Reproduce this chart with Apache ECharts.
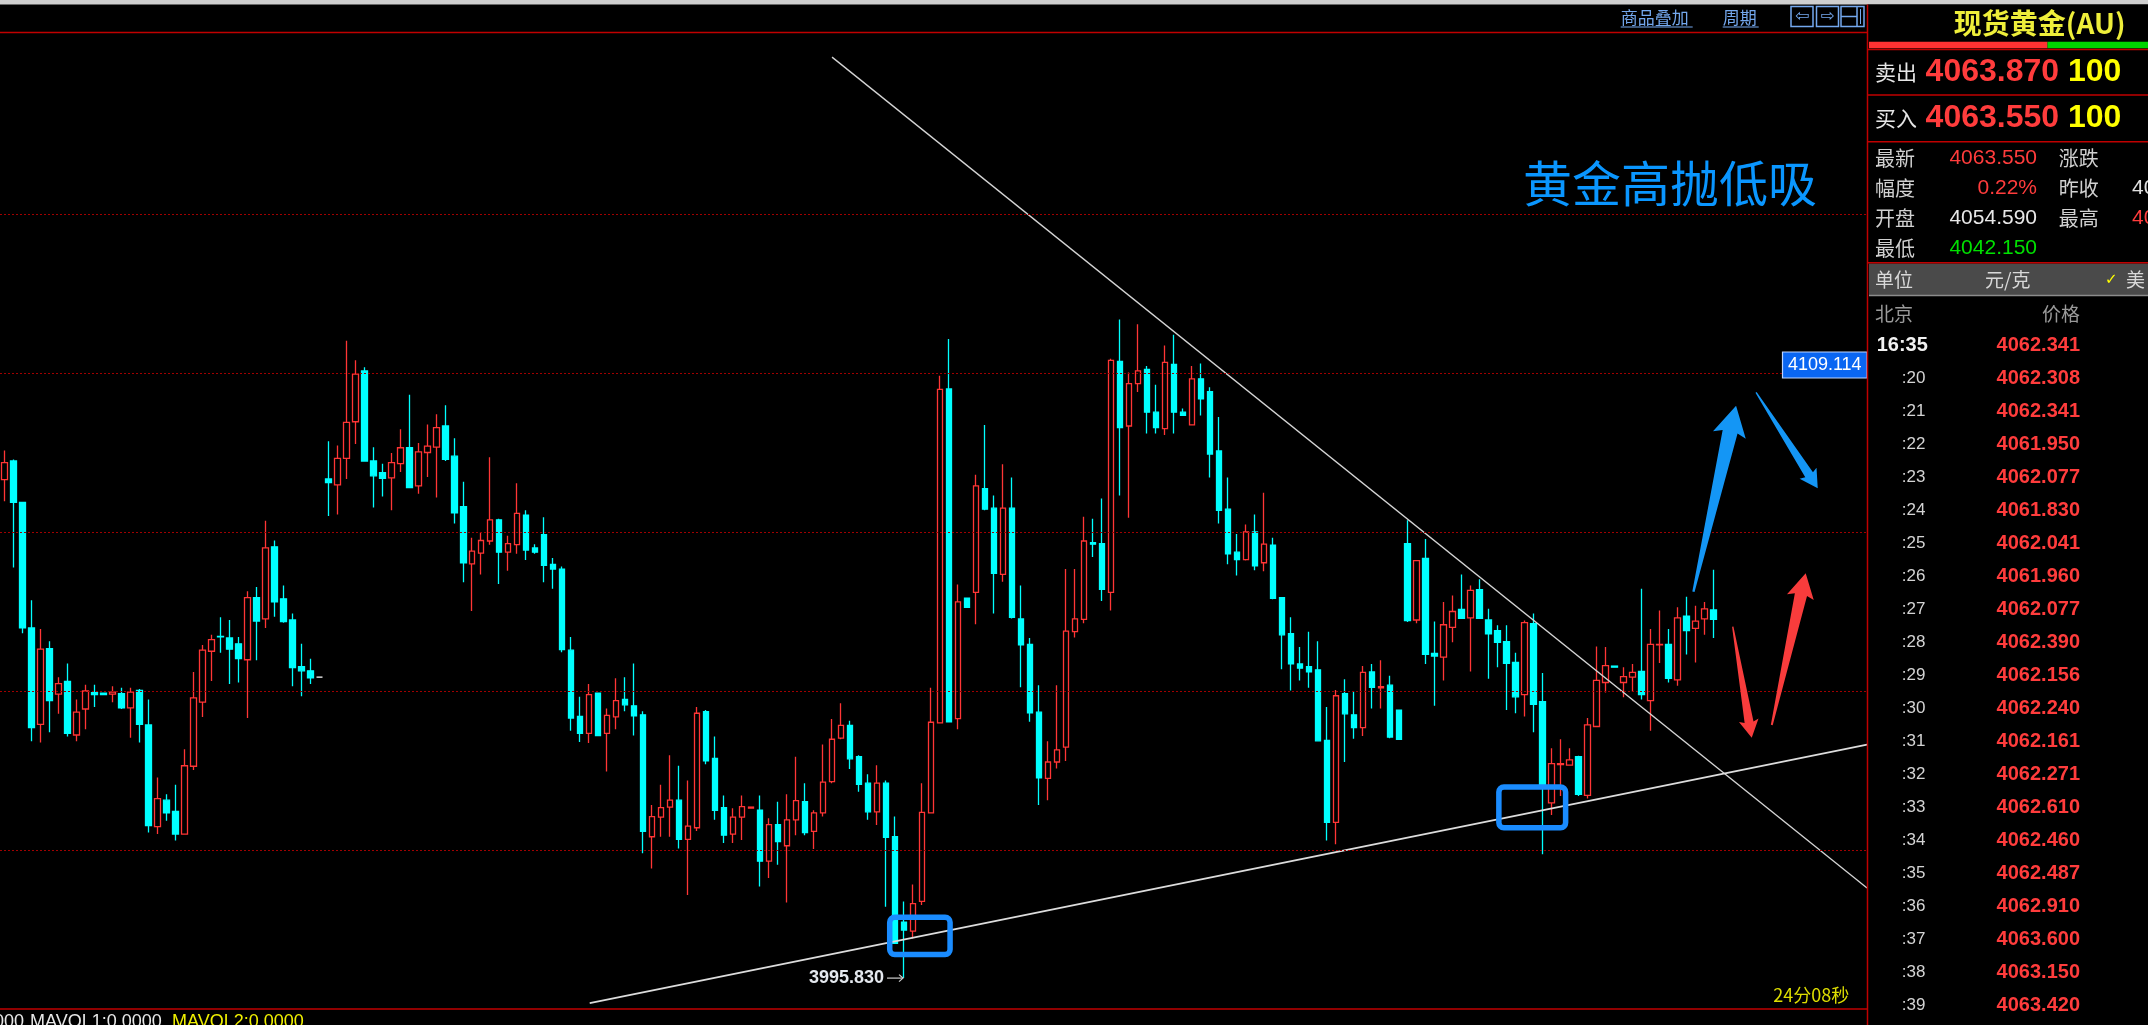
<!DOCTYPE html>
<html><head><meta charset="utf-8">
<script src="https://cdn.jsdelivr.net/npm/echarts@6/dist/echarts.min.js"></script>
<style>html,body{margin:0;padding:0;background:#000;overflow:hidden}#c{width:2148px;height:1025px}</style>
</head><body><div id="c"></div>
<script>
// ---- candle data (open, close, low, high) ----
const opens = [4089.9,4093.4,4085.6,4061.9,4043.7,4058.0,4049.4,4051.8,4041.7,4046.6,4049.7,4049.6,4049.4,4049.5,4046.8,4050.1,4043.6,4024.4,4029.4,4027.3,
4023.0,4035.8,4047.9,4057.5,4060.3,4060.0,4058.9,4055.9,4067.6,4063.6,4077.2,4067.4,4063.4,4054.6,4053.8,4052.6,4090.0,4088.9,4093.9,4100.8,
4110.4,4093.4,4091.2,4090.2,4092.9,4095.9,4088.7,4095.0,4096.0,4100.0,4094.3,4084.8,4074.0,4076.0,4078.3,4082.3,4076.2,4077.6,4083.2,4077.0,
4079.5,4073.9,4073.0,4057.7,4045.2,4042.0,4049.6,4042.0,4045.1,4048.4,4047.2,4045.5,4022.5,4026.2,4028.1,4029.4,4022.0,4024.2,4046.1,4037.3,
4028.0,4023.0,4026.2,4027.9,4027.5,4017.9,4024.8,4020.8,4025.7,4029.1,4023.5,4027.0,4032.9,4041.1,4043.5,4037.6,4032.6,4027.2,4032.6,4022.5,
4006.4,4004.7,4010.3,4027.0,4044.0,4107.0,4044.8,4067.5,4068.6,4088.2,4084.5,4072.0,4084.5,4063.6,4058.8,4046.0,4033.5,4036.6,4039.4,4061.2,
4063.5,4078.0,4077.8,4068.6,4112.2,4100.0,4108.0,4110.7,4102.6,4099.5,4111.6,4102.6,4100.2,4108.9,4106.5,4095.3,4084.3,4076.2,4074.8,4080.0,
4074.2,4077.5,4067.6,4060.8,4055.1,4054.6,4054.0,4040.7,4025.2,4049.5,4045.5,4043.1,4053.6,4050.6,4051.1,4046.4,4077.8,4063.4,4075.0,4057.1,
4056.4,4062.0,4065.4,4063.8,4069.1,4063.4,4061.4,4059.3,4055.4,4049.3,4062.7,4048.0,4028.9,4036.1,4036.0,4037.6,4030.3,4043.3,4051.6,4054.7,
4051.6,4052.6,4053.7,4048.2,4058.7,4058.8,4052.1,4064.1,4061.8,4063.6,4065.3];
const closes = [4093.1,4085.6,4061.9,4043.1,4057.9,4048.2,4051.4,4042.0,4046.0,4050.0,4049.3,4049.3,4049.8,4046.8,4049.8,4043.7,4024.6,4029.7,4027.0,4023.0,
4035.9,4048.7,4057.7,4059.7,4060.2,4057.9,4056.1,4067.6,4063.2,4077.0,4066.8,4063.1,4054.4,4053.8,4052.5,4052.6,4089.3,4093.9,4100.7,4109.8,
4093.4,4090.6,4090.1,4093.1,4095.9,4088.4,4095.1,4096.2,4099.7,4093.7,4083.6,4074.2,4076.4,4078.4,4082.3,4076.2,4077.8,4083.5,4076.6,4076.2,
4073.7,4073.0,4057.8,4044.9,4042.0,4049.3,4041.6,4045.4,4048.2,4047.4,4045.3,4023.5,4026.3,4028.0,4029.4,4022.0,4024.5,4045.8,4036.8,4027.5,
4022.8,4026.2,4028.2,4028.1,4017.9,4024.8,4021.6,4025.7,4029.3,4023.3,4027.0,4032.8,4040.9,4043.5,4037.2,4032.4,4027.2,4032.6,4022.4,4002.4,
4004.9,4009.9,4027.1,4044.1,4106.9,4044.2,4066.8,4065.8,4088.7,4084.3,4072.2,4084.5,4063.9,4058.7,4045.9,4033.6,4036.6,4038.9,4061.3,4063.6,
4078.3,4077.7,4069.2,4112.4,4099.7,4108.0,4110.4,4102.6,4099.7,4112.0,4102.6,4102.0,4108.9,4105.1,4094.7,4084.1,4075.9,4074.8,4080.0,4073.6,
4077.7,4067.5,4060.6,4055.1,4054.3,4053.6,4040.6,4025.2,4049.1,4045.7,4043.1,4053.5,4050.7,4050.8,4041.3,4040.9,4063.3,4074.6,4056.9,4056.6,
4062.5,4065.0,4063.7,4069.0,4063.7,4060.8,4059.2,4055.2,4048.9,4062.9,4047.5,4032.4,4036.3,4036.3,4037.0,4030.5,4043.6,4052.0,4054.8,4054.5,
4052.7,4053.5,4049.3,4058.8,4058.8,4052.4,4063.8,4061.4,4063.2,4065.5,4063.5];
const lows = [4085.8,4073.3,4060.9,4040.5,4040.3,4042.2,4045.7,4041.4,4040.5,4042.8,4047.0,4049.2,4047.9,4046.6,4041.2,4040.3,4023.3,4023.0,4025.5,4021.8,
4022.9,4035.1,4045.1,4051.9,4057.2,4051.3,4051.6,4044.9,4055.8,4061.9,4064.0,4062.9,4050.9,4049.0,4051.3,4052.6,4083.0,4083.3,4090.0,4096.6,
4093.4,4084.6,4086.7,4084.1,4091.3,4088.4,4087.2,4090.4,4086.5,4093.4,4081.6,4070.5,4065.1,4072.0,4077.6,4070.2,4072.7,4075.9,4074.7,4075.9,
4070.5,4069.3,4057.3,4042.5,4040.4,4040.2,4041.5,4034.8,4042.8,4046.2,4041.6,4019.4,4016.5,4022.5,4022.5,4020.3,4011.5,4023.6,4036.2,4025.7,
4021.3,4021.3,4021.9,4027.9,4013.1,4014.7,4017.2,4010.1,4022.8,4022.8,4020.2,4026.3,4032.6,4040.9,4035.3,4031.0,4025.7,4024.7,4009.3,4002.3,
3995.83,4003.3,4009.6,4026.9,4043.9,4044.2,4042.8,4065.8,4062.6,4084.1,4064.6,4070.6,4063.7,4050.7,4044.2,4028.5,4029.4,4035.4,4036.8,4060.1,
4062.8,4075.3,4067.0,4065.2,4086.9,4082.7,4106.4,4098.6,4098.6,4098.3,4098.6,4102.0,4100.2,4102.0,4090.3,4081.6,4073.9,4071.8,4074.6,4072.8,
4072.6,4067.3,4054.1,4050.1,4052.0,4050.6,4040.5,4021.8,4021.1,4036.6,4041.0,4041.5,4046.7,4046.7,4041.1,4040.9,4063.0,4062.8,4055.1,4047.2,
4052.0,4059.2,4063.7,4053.7,4063.7,4052.3,4054.5,4046.4,4045.8,4045.2,4042.2,4019.2,4026.6,4030.2,4036.0,4030.2,4029.7,4043.3,4049.7,4054.5,
4048.8,4049.9,4048.4,4042.5,4055.3,4051.6,4051.0,4056.9,4055.4,4060.6,4060.0];
const highs = [4095.4,4093.7,4085.6,4067.1,4061.7,4059.4,4052.6,4055.2,4048.4,4051.2,4051.2,4049.6,4050.9,4050.6,4050.6,4050.4,4048.4,4033.7,4030.5,4032.3,
4039.0,4053.6,4058.7,4060.6,4063.9,4063.4,4060.2,4068.8,4069.6,4082.1,4078.4,4069.9,4064.6,4058.9,4056.1,4052.6,4097.1,4096.3,4116.1,4112.4,
4111.1,4096.0,4092.9,4094.9,4099.4,4105.9,4096.8,4100.3,4102.2,4103.9,4097.7,4089.5,4078.9,4079.9,4094.1,4082.5,4079.3,4089.2,4084.1,4077.7,
4082.8,4075.1,4073.5,4060.2,4048.9,4051.3,4049.7,4046.7,4052.4,4052.6,4055.2,4046.2,4028.5,4032.3,4037.9,4035.9,4033.1,4047.0,4046.4,4041.4,
4030.3,4027.9,4030.3,4028.1,4030.3,4026.0,4029.1,4030.5,4037.6,4032.6,4027.5,4039.9,4044.7,4047.7,4044.4,4037.9,4034.3,4036.0,4033.1,4026.3,
4010.3,4013.5,4032.6,4050.6,4109.5,4116.4,4070.1,4067.5,4090.8,4100.2,4086.9,4092.8,4090.3,4069.9,4060.0,4051.1,4040.5,4051.1,4073.0,4073.0,
4082.9,4082.5,4086.3,4112.7,4120.1,4110.1,4119.2,4111.3,4107.8,4115.2,4117.2,4103.3,4111.3,4111.8,4107.3,4101.7,4090.3,4079.6,4081.4,4083.3,
4087.4,4078.9,4067.7,4063.9,4058.3,4061.2,4059.4,4047.0,4050.2,4052.2,4049.9,4054.7,4055.1,4055.8,4052.9,4046.4,4082.2,4074.6,4078.7,4063.1,
4066.8,4068.0,4072.0,4069.9,4071.1,4065.5,4062.4,4062.4,4057.2,4063.3,4064.6,4053.4,4039.2,4040.9,4039.2,4037.8,4044.9,4058.4,4058.3,4054.7,
4054.5,4055.1,4069.3,4061.7,4065.2,4061.7,4065.8,4067.8,4066.1,4066.8,4072.9];
const slotCount = 208;
const gridPrices = [4020, 4050, 4080, 4110, 4140];
// trend lines: [index, price] end points
const upperLine = [[92.0, 4169.6], [207.06, 4012.83]];
const lowerLine = [[65.06, 3991.11], [207.06, 4039.89]];
// highlight boxes: [x0, x1, lowPrice, highPrice]
const boxes = [[98.41, 105.12, 4000.3, 4007.3], [166.13, 173.55, 4024.2, 4031.9]];
// arrows: [tailIdx, tailPrice, tipIdx, tipPrice, colour]
const arrows = [[187.76, 4068.74, 192.5, 4103.83, 0], [194.72, 4106.36, 201.58, 4088.25, 0],
                [192.13, 4062.13, 194.24, 4041.19, 1], [196.47, 4043.58, 200.24, 4072.21, 1]];
const lowMark = [100, 3995.83, '3995.830'];
const priceTag = [4109.114, '4109.114'];
// right panel table
const tickTimes = [':20',':21',':22',':23',':24',':25',':26',':27',':28',':29',':30',':31',':32',':33',':34',':35',':36',':37',':38',':39'];
const tickPrices = ['4062.308','4062.341','4061.950','4062.077','4061.830','4062.041','4061.960','4062.077','4062.390','4062.156',
                    '4062.240','4062.161','4062.271','4062.610','4062.460','4062.487','4062.910','4063.600','4063.150','4063.420'];

const categories = Array.from({length: slotCount}, (_, i) => String(i));
const candleData = opens.map((o, i) => [o, closes[i], lows[i], highs[i]]);

const RED = '#ff3c3c', CYAN = '#00ffff', BORDER = '#c00000';
const NUM = '"Liberation Sans", Arial, sans-serif';
const CJK = '"Noto Sans CJK SC", sans-serif';

function T(x, y, text, fill, font, align, vAlign) {
  return {type: 'text', x: x, y: y, z: 100, silent: true,
    style: {text: text, fill: fill, font: font, align: align || 'left', verticalAlign: vAlign || 'middle'}};
}
function R(x, y, w, h, fill, stroke, lw) {
  return {type: 'rect', z: 100, silent: true, shape: {x: x, y: y, width: w, height: h},
    style: {fill: fill || 'none', stroke: stroke || 'none', lineWidth: lw || 0}};
}
function Ln(x1, y1, x2, y2, stroke, lw) {
  return {type: 'line', z: 101, silent: true, shape: {x1: x1, y1: y1, x2: x2, y2: y2},
    style: {stroke: stroke, lineWidth: lw || 1}};
}

const graphics = [];
graphics.push(R(0, 0, 2148, 4.5, '#cfcfcf'));
graphics.push(R(1868, 4.5, 280, 1021, '#000'));
graphics.push(Ln(0, 32.5, 1867, 32.5, BORDER, 1.5));
graphics.push(Ln(0, 1009, 1867, 1009, BORDER, 1.5));
graphics.push(Ln(1867.5, 4.5, 1867.5, 1025, BORDER, 1.5));
const TB = '#74a8ee';
graphics.push(T(1620.7, 18, '商品叠加', TB, '17px ' + CJK));
graphics.push(Ln(1620.7, 27, 1692.7, 27, TB, 1));
graphics.push(T(1722.7, 18, '周期', TB, '17px ' + CJK));
graphics.push(Ln(1722.7, 27, 1758.7, 27, TB, 1));
graphics.push(R(1791, 6.5, 22, 20, null, TB, 1.5));
graphics.push(R(1816.5, 6.5, 22, 20, null, TB, 1.5));
graphics.push(R(1841, 6.5, 23, 20, null, TB, 1.5));
graphics.push(T(1802, 17, '⇦', TB, '17px "DejaVu Sans"', 'center'));
graphics.push(T(1827.5, 17, '⇨', TB, '17px "DejaVu Sans"', 'center'));
graphics.push(Ln(1841, 16.5, 1857, 16.5, TB, 1.5));
graphics.push(Ln(1857, 6.5, 1857, 26.5, TB, 1.5));
graphics.push(Ln(1860.5, 9, 1860.5, 24, TB, 1));
graphics.push(T(1523, 183, '黄金高抛低吸', '#0a96ff', '49px ' + CJK));
graphics.push(T(1773.3, 995, '24分08秒', '#dede00', '18px ' + CJK));
graphics.push(T(24, 1013.5, '000', '#e8e8e8', '18px ' + NUM, 'right', 'top'));
graphics.push(T(30, 1013.5, 'MAVOL1:0.0000', '#e8e8e8', '18px ' + NUM, 'left', 'top'));
graphics.push(T(172, 1013.5, 'MAVOL2:0.0000', '#f0f000', '18px ' + NUM, 'left', 'top'));
graphics.push(T(1953.8, 23.5, '现货黄金(AU)', '#eeee3a', 'bold 28px ' + CJK));
graphics.push(R(1869, 41.7, 178.5, 6.6, '#ff3333'));
graphics.push(R(2047.5, 41.7, 101, 6.6, '#00d400'));
[49.5, 95, 141.7, 262.7].forEach(y => graphics.push(Ln(1868, y, 2148, y, BORDER, 1.5)));
graphics.push(T(1875, 72, '卖出', '#e6e6e6', '21px ' + CJK));
graphics.push(T(1925.6, 72, '4063.870', RED, 'bold 32px ' + NUM));
graphics.push(T(2068, 72, '100', '#ffff00', 'bold 32px ' + NUM));
graphics.push(T(1875, 118.5, '买入', '#e6e6e6', '21px ' + CJK));
graphics.push(T(1925.6, 118.5, '4063.550', RED, 'bold 32px ' + NUM));
graphics.push(T(2068, 118.5, '100', '#ffff00', 'bold 32px ' + NUM));
const infoRows = [['最新', '4063.550', RED, '涨跌', '', '#e0e0e0'], ['幅度', '0.22%', RED, '昨收', '40', '#e0e0e0'],
                  ['开盘', '4054.590', '#e8e8e8', '最高', '40', RED], ['最低', '4042.150', '#00e000', '', '', '#e0e0e0']];
infoRows.forEach((r, k) => {
  const y = 158.5 + 30 * k;
  graphics.push(T(1875, y, r[0], '#d0d0d0', '20px ' + CJK));
  graphics.push(T(2037, y, r[1], r[2], '21px ' + NUM, 'right'));
  if (r[3]) graphics.push(T(2058.8, y, r[3], '#d0d0d0', '20px ' + CJK));
  if (r[4]) graphics.push(T(2132, y, r[4], r[5], '21px ' + NUM));
});
graphics.push(R(1869, 263.5, 279, 31.5, '#4a4a4a'));
graphics.push(Ln(1869, 295.5, 2148, 295.5, '#8c8c8c', 1.5));
graphics.push(T(1875, 280, '单位', '#d8d8d8', '19px ' + CJK));
graphics.push(T(1985, 280, '元/克', '#d8d8d8', '19px ' + CJK));
graphics.push(T(2105, 280, '✓', '#ffff00', 'bold 15px "DejaVu Sans"'));
graphics.push(T(2126, 280, '美', '#d8d8d8', '19px ' + CJK));
graphics.push(T(1875, 313.5, '北京', '#9a9a9a', '19px ' + CJK));
graphics.push(T(2080, 313.5, '价格', '#9a9a9a', '19px ' + CJK, 'right'));
graphics.push(T(1876.7, 345.5, '16:35', '#f2f2f2', 'bold 20px ' + NUM));
graphics.push(T(2080, 345.5, '4062.341', RED, 'bold 20px ' + NUM, 'right'));
tickTimes.forEach((t, k) => {
  const y = 378.5 + 33 * k;
  graphics.push(T(1901.7, y, t, '#d4d4d4', '17px ' + NUM));
  graphics.push(T(2080, y, tickPrices[k], RED, 'bold 20px ' + NUM, 'right'));
});

const chart = echarts.init(document.getElementById('c'), null, {renderer: 'canvas'});
chart.setOption({
  animation: false,
  backgroundColor: '#000',
  grid: {left: -1, top: 32, width: slotCount * 9, height: 977},
  xAxis: [
    {type: 'category', data: categories, boundaryGap: true, show: false},
    {type: 'value', min: -0.5, max: slotCount - 0.5, show: false}
  ],
  yAxis: {type: 'value', min: 3990, max: 4174.34, show: false, splitLine: {show: false}},
  series: [
    {
      type: 'candlestick', data: candleData, barWidth: 6, z: 3,
      itemStyle: {color: '#000', color0: CYAN, borderColor: '#ff3535', borderColor0: CYAN, borderColorDoji: '#ffffff', borderWidth: 1.3},
      markLine: {
        silent: true, symbol: ['none', 'none'], label: {show: false}, animation: false,
        lineStyle: {color: '#a00000', type: [2, 2], width: 1},
        data: gridPrices.map(p => ({yAxis: p}))
      }
    },
    {type: 'line', xAxisIndex: 1, data: upperLine, symbol: 'none', silent: true, z: 4,
      lineStyle: {color: '#d4d4d4', width: 1.3}},
    {type: 'line', xAxisIndex: 1, data: lowerLine, symbol: 'none', silent: true, z: 4,
      lineStyle: {color: '#dcdcdc', width: 1.8}},
    {
      type: 'custom', xAxisIndex: 1, data: boxes, silent: true, z: 6,
      renderItem: function (params, api) {
        const a = api.coord([api.value(0), api.value(3)]);
        const b = api.coord([api.value(1), api.value(2)]);
        return {type: 'rect', shape: {x: a[0], y: a[1], width: b[0] - a[0], height: b[1] - a[1], r: 5},
          style: {fill: 'none', stroke: '#1a8cff', lineWidth: 5.5}};
      }
    },
    {
      type: 'custom', xAxisIndex: 1, data: arrows, silent: true, z: 6,
      renderItem: function (params, api) {
        const a = api.coord([api.value(0), api.value(1)]);
        const b = api.coord([api.value(2), api.value(3)]);
        const dx = b[0] - a[0], dy = b[1] - a[1], L = Math.hypot(dx, dy);
        const ux = dx / L, uy = dy / L, nx = -uy, ny = ux;
        const hb = 0.157 * L, nb = 0.14 * L, w = 0.088 * L, s = 0.04 * L, t = 0.006 * L;
        const pts = [b,
          [b[0] - ux * hb + nx * w, b[1] - uy * hb + ny * w],
          [b[0] - ux * nb + nx * s, b[1] - uy * nb + ny * s],
          [a[0] + nx * t, a[1] + ny * t],
          [a[0] - nx * t, a[1] - ny * t],
          [b[0] - ux * nb - nx * s, b[1] - uy * nb - ny * s],
          [b[0] - ux * hb - nx * w, b[1] - uy * hb - ny * w]];
        return {type: 'polygon', shape: {points: pts},
          style: {fill: api.value(4) === 0 ? '#1496f5' : '#f83c3c'}};
      }
    },
    {
      type: 'custom', xAxisIndex: 1, data: [lowMark], silent: true, z: 7,
      dimensions: ['x', 'y', 'label'],
      renderItem: function (params, api) {
        const p = api.coord([api.value(0), api.value(1)]);
        return {type: 'group', children: [
          {type: 'text', style: {x: p[0] - 20, y: p[1], text: lowMark[2], fill: '#e4e8ee',
            font: 'bold 18px ' + NUM, align: 'right', verticalAlign: 'middle'}},
          {type: 'line', shape: {x1: p[0] - 17, y1: p[1], x2: p[0] - 1, y2: p[1]}, style: {stroke: '#cfcfcf', lineWidth: 1.2}},
          {type: 'polyline', shape: {points: [[p[0] - 5, p[1] - 3.5], [p[0] - 1, p[1]], [p[0] - 5, p[1] + 3.5]]},
            style: {stroke: '#cfcfcf', lineWidth: 1.2, fill: 'none'}}
        ]};
      }
    },
    {
      type: 'custom', xAxisIndex: 1, data: [[0, priceTag[0]]], silent: true, z: 8,
      renderItem: function (params, api) {
        const p = api.coord([0, api.value(1)]);
        const right = 1867, h = 26, w = 84.5, cy = p[1] - 12.7;
        return {type: 'group', children: [
          {type: 'rect', shape: {x: right - w, y: cy - h / 2, width: w, height: h},
            style: {fill: '#0a66f2', stroke: '#bcd4ff', lineWidth: 1.2}},
          {type: 'text', style: {x: right - w / 2, y: cy + 0.5, text: priceTag[1], fill: '#ffffff',
            font: '18px ' + NUM, align: 'center', verticalAlign: 'middle'}}
        ]};
      }
    }
  ],
  graphic: graphics
});
</script></body></html>
